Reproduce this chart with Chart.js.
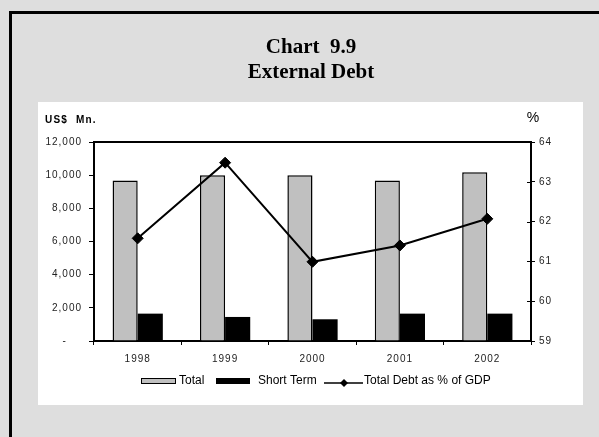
<!DOCTYPE html>
<html>
<head>
<meta charset="utf-8">
<script src="https://cdn.jsdelivr.net/npm/chart.js@4/dist/chart.umd.min.js"></script>
<style>
  html, body { margin: 0; padding: 0; background: #dedede; }
  canvas { display: block; }
</style>
</head>
<body>
<canvas id="debtChart" width="599" height="437"></canvas>
<script>
// External debt, US$ Mn. and % of GDP
var years = ["1998", "1999", "2000", "2001", "2002"];
var totalDebt = [9680, 10000, 9990, 9680, 10180];
var shortTermDebt = [1650, 1450, 1310, 1650, 1650];
var debtPctGdp = [61.58, 63.48, 60.99, 61.40, 62.07];

var titleLines = ["Chart  9.9", "External Debt"];
var leftUnit = "US$  Mn.";
var rightUnit = "%";

var tickFont = { family: "'Liberation Sans', Arial, sans-serif", size: 10 };
var tickColor = "#222";

// page frame, white panel and headings
var framePlugin = {
  id: "frame",
  beforeDraw: function(chart) {
    var ctx = chart.ctx;
    ctx.save();
    ctx.fillStyle = "#dedede";
    ctx.fillRect(0, 0, chart.width, chart.height);
    ctx.fillStyle = "#000";
    ctx.fillRect(9, 11, chart.width - 9, 3);
    ctx.fillRect(9, 11, 3, chart.height - 11);
    ctx.fillStyle = "#fff";
    ctx.fillRect(38, 102, 545, 303);

    ctx.fillStyle = "#000";
    ctx.textAlign = "center";
    ctx.textBaseline = "alphabetic";
    ctx.font = "bold 21px 'Liberation Serif', 'Times New Roman', serif";
    ctx.fillText(titleLines[0], 311, 53);
    ctx.fillText(titleLines[1], 311, 78);

    ctx.letterSpacing = "1.2px";
    ctx.textAlign = "left";
    ctx.font = "bold 10px 'Liberation Sans', Arial, sans-serif";
    ctx.fillText(leftUnit, 45, 123);
    ctx.letterSpacing = "0px";
    ctx.textAlign = "center";
    ctx.font = "14px 'Liberation Sans', Arial, sans-serif";
    ctx.fillText(rightUnit, 533, 122);
    ctx.restore();
    // spaced-out tick labels for the axes drawn next
    ctx.letterSpacing = "1px";
  },
  afterDraw: function(chart) {
    var ctx = chart.ctx;
    var area = chart.chartArea;
    var ds = chart.data.datasets;
    ctx.save();
    ctx.letterSpacing = "0px";

    // top edge of the plot frame
    ctx.strokeStyle = "#000";
    ctx.lineWidth = 2;
    ctx.beginPath();
    ctx.moveTo(area.left - 1, area.top);
    ctx.lineTo(area.right + 1, area.top);
    ctx.stroke();

    // right axis ticks cross the axis line
    var y2 = chart.scales.y2;
    ctx.lineWidth = 1;
    y2.ticks.forEach(function(t) {
      var py = Math.round(y2.getPixelForValue(t.value)) + 0.5;
      ctx.beginPath();
      ctx.moveTo(area.right - 4, py);
      ctx.lineTo(area.right, py);
      ctx.stroke();
    });

    // legend
    var ly = 381;
    ctx.font = "12px 'Liberation Sans', Arial, sans-serif";
    ctx.textBaseline = "middle";
    ctx.textAlign = "left";

    ctx.fillStyle = ds[0].backgroundColor;
    ctx.fillRect(141, ly - 2.5, 35, 5);
    ctx.lineWidth = 1;
    ctx.strokeStyle = "#000";
    ctx.strokeRect(141.5, ly - 2.5, 34, 5);
    ctx.fillStyle = "#000";
    ctx.fillText(ds[0].label, 179, ly);

    ctx.fillStyle = ds[1].backgroundColor;
    ctx.fillRect(216, ly - 3, 34, 6);
    ctx.fillStyle = "#000";
    ctx.fillText(ds[1].label, 258, ly);

    ctx.lineWidth = 1.5;
    ctx.beginPath();
    ctx.moveTo(324, ly + 2);
    ctx.lineTo(363, ly + 2);
    ctx.stroke();
    ctx.beginPath();
    ctx.moveTo(344, ly - 2);
    ctx.lineTo(348, ly + 2);
    ctx.lineTo(344, ly + 6);
    ctx.lineTo(340, ly + 2);
    ctx.closePath();
    ctx.fill();
    ctx.fillText(ds[2].label, 364, ly);
    ctx.restore();
  }
};

new Chart(document.getElementById("debtChart"), {
  data: {
    labels: years,
    datasets: [
      {
        type: "bar",
        label: "Total",
        data: totalDebt,
        backgroundColor: "#c0c0c0",
        borderColor: "#000",
        borderWidth: 1.5,
        yAxisID: "y",
        order: 1,
        categoryPercentage: 0.575,
        barPercentage: 1
      },
      {
        type: "bar",
        label: "Short Term",
        data: shortTermDebt,
        backgroundColor: "#000",
        borderWidth: 0,
        yAxisID: "y",
        order: 1,
        categoryPercentage: 0.575,
        barPercentage: 1
      },
      {
        type: "line",
        label: "Total Debt as % of GDP",
        data: debtPctGdp,
        borderColor: "#000",
        borderWidth: 2,
        tension: 0,
        pointStyle: "rectRot",
        pointRadius: 5.5,
        pointBackgroundColor: "#000",
        pointBorderColor: "#000",
        pointBorderWidth: 1,
        yAxisID: "y2",
        order: 0
      }
    ]
  },
  options: {
    responsive: false,
    animation: false,
    devicePixelRatio: 1,
    layout: { padding: { left: 38, right: 0, top: 142, bottom: 72 } },
    plugins: {
      legend: { display: false },
      title: { display: false },
      tooltip: { enabled: false }
    },
    scales: {
      x: {
        type: "category",
        offset: true,
        grid: { offset: true, drawOnChartArea: false, tickLength: 4, color: "#000", lineWidth: 1 },
        border: { display: true, color: "#000", width: 2 },
        ticks: { color: tickColor, font: tickFont, padding: 8, maxRotation: 0 },
        afterFit: function(s) { s.height = 24; }
      },
      y: {
        position: "left",
        min: 0,
        max: 12000,
        grid: { drawOnChartArea: false, tickLength: 5, color: "#000", lineWidth: 1 },
        border: { display: true, color: "#000", width: 2 },
        ticks: {
          stepSize: 2000,
          color: tickColor,
          font: tickFont,
          padding: 7,
          callback: function(v) { return v === 0 ? "-    " : v.toLocaleString("en-US"); }
        },
        afterFit: function(s) { s.width = 56; }
      },
      y2: {
        position: "right",
        min: 59,
        max: 64,
        grid: { drawOnChartArea: false, tickLength: 4, color: "#000", lineWidth: 1 },
        border: { display: true, color: "#000", width: 2 },
        ticks: { stepSize: 1, color: tickColor, font: tickFont, padding: 4 },
        afterFit: function(s) { s.width = 68; }
      }
    }
  },
  plugins: [framePlugin]
});
</script>
</body>
</html>
